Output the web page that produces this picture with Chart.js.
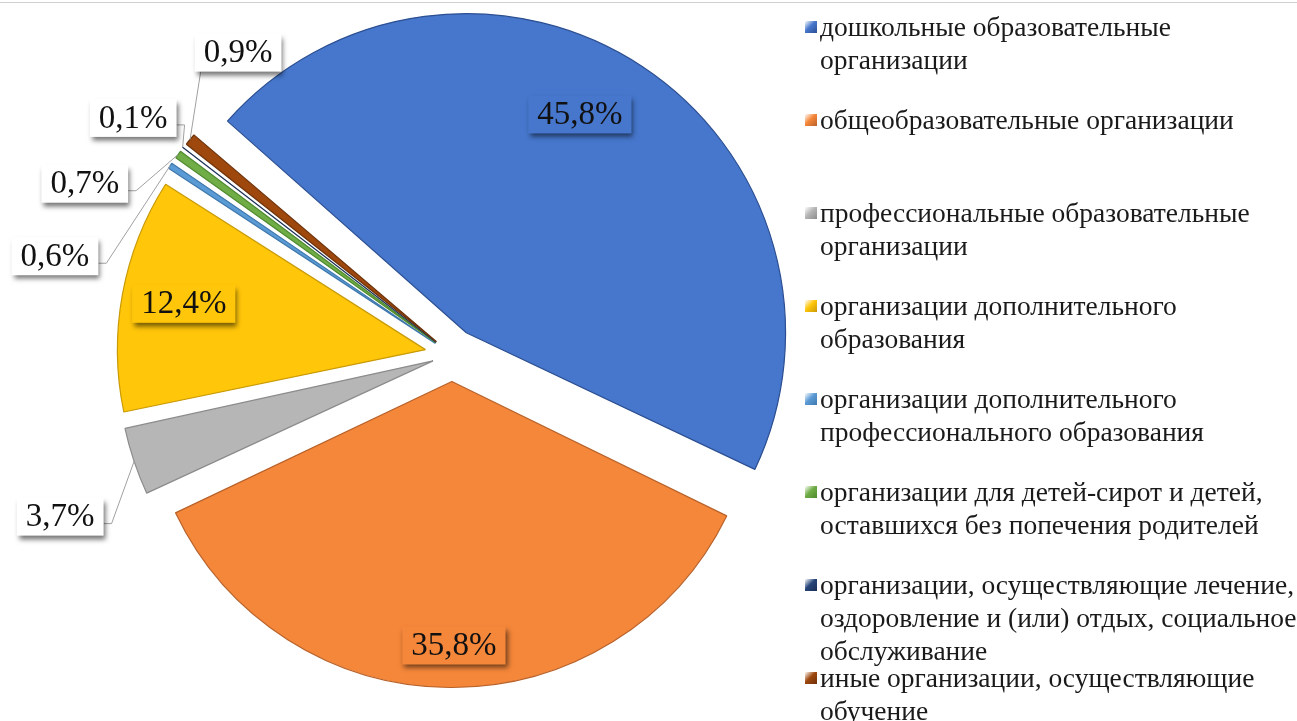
<!DOCTYPE html>
<html lang="ru">
<head>
<meta charset="utf-8">
<title>Структура организаций</title>
<script src="https://cdn.jsdelivr.net/npm/chart.js@4.4.1/dist/chart.umd.min.js"></script>
<style>
  html, body { margin: 0; padding: 0; background: #fff; }
  body { width: 1297px; height: 721px; position: relative; overflow: hidden;
         font-family: "Liberation Serif", "Times New Roman", serif; }
  .topline { position: absolute; left: 0; top: 2px; width: 100%; height: 1px; background: #d0d0d0; }
  #pie { position: absolute; left: 0; top: -6px; }
  #legend { position: absolute; left: 805px; top: 10px; margin: 0; padding: 0; list-style: none; }
  #legend li { height: 93px; display: flex; align-items: flex-start;
               font-size: 27.5px; line-height: 33px; color: #1a1a1a; white-space: nowrap; }
  #legend .mark { width: 12px; height: 12px; margin: 11px 3px 0 0; flex: none; }
</style>
</head>
<body>
<div class="topline"></div>
<canvas id="pie" width="904" height="721"></canvas>
<ul id="legend"></ul>
<script>
// категории (строки легенды) и доли, %
const categories = [
    ['дошкольные образовательные', 'организации'],
    ['общеобразовательные организации'],
    ['профессиональные образовательные', 'организации'],
    ['организации дополнительного', 'образования'],
    ['организации дополнительного', 'профессионального образования'],
    ['организации для детей-сирот и детей,', 'оставшихся без попечения родителей'],
    ['организации, осуществляющие лечение,', 'оздоровление и (или) отдых, социальное', 'обслуживание'],
    ['иные организации, осуществляющие', 'обучение']
];
const shares = [45.8, 35.8, 3.7, 12.4, 0.6, 0.7, 0.1, 0.9];

const colors  = ['#4677cc', '#f5873a', '#b6b6b6', '#ffc60a', '#5b9bd5', '#70ad47', '#264478', '#9e480e'];
const borders = ['#2c4f92', '#b8622a', '#8c8c8c', '#c99a06', '#3f78ad', '#4f8a2e', '#1a2f55', '#6e3209'];

// где ставить подписи: смещение угла от середины сектора и расстояние от центра
const labelPlace = [
    { shift: -5.4,  dist: 272 },
    { shift: -0.7,  dist: 291 },
    { shift: -3.9,  dist: 424, outside: true, attach: 'right' },
    { shift: 0.3,   dist: 273 },
    { shift: -19.9, dist: 409, outside: true, attach: 'right' },
    { shift: -11.2, dist: 405, outside: true, attach: 'right' },
    { shift: -1.0,  dist: 397, outside: true, attach: 'right' },
    { shift: 15.3,  dist: 370, outside: true, attach: 'bottom' }
];

const sliceLabels = {
    id: 'sliceLabels',
    afterDatasetsDraw(chart) {
        const ctx = chart.ctx;
        const meta = chart.getDatasetMeta(0);
        ctx.save();
        ctx.font = '33px "Liberation Serif", "Times New Roman", serif';
        ctx.textAlign = 'center';
        ctx.textBaseline = 'middle';
        meta.data.forEach(function (arc, i) {
            const p = labelPlace[i];
            const mid = (arc.startAngle + arc.endAngle) / 2;
            const ang = mid + p.shift * Math.PI / 180;
            const lx = arc.x + Math.cos(ang) * p.dist;
            const ly = arc.y + Math.sin(ang) * p.dist;
            const text = shares[i].toFixed(1).replace('.', ',') + '%';
            const w = ctx.measureText(text).width + 18;
            const h = 38;
            const bx = lx - w / 2, by = ly - h / 2;

            if (p.outside) {
                // линия-выноска к внешней дуге сектора
                const off = (arc.options.offset || 0) / 4;
                const fix = 1 - Math.sin(Math.min(Math.PI, arc.circumference));
                const r = arc.outerRadius + off * fix + off;
                const ax = arc.x + Math.cos(mid) * r;
                const ay = arc.y + Math.sin(mid) * r;
                ctx.strokeStyle = '#a0a0a0';
                ctx.lineWidth = 1;
                ctx.beginPath();
                if (p.attach === 'bottom') {
                    ctx.moveTo(bx + 6, by + h);
                    ctx.lineTo(ax, ay);
                } else {
                    const sy = by + h / 2 + 7;
                    ctx.moveTo(bx + w, sy);
                    ctx.lineTo(bx + w + 8, sy);
                    ctx.lineTo(ax, ay);
                }
                ctx.stroke();
            }

            ctx.save();
            ctx.shadowColor = 'rgba(0,0,0,0.55)';
            ctx.shadowBlur = 5;
            ctx.shadowOffsetX = 2;
            ctx.shadowOffsetY = 4;
            ctx.fillStyle = p.outside ? '#ffffff' : arc.options.backgroundColor;
            ctx.fillRect(bx, by, w, h);
            ctx.restore();

            ctx.fillStyle = '#111';
            ctx.fillText(text, lx, ly + 1);
        });
        ctx.restore();
    }
};

new Chart(document.getElementById('pie'), {
    type: 'pie',
    data: {
        labels: categories.map(function (l) { return l.join(' '); }),
        datasets: [{
            data: shares,
            backgroundColor: colors,
            borderColor: borders,
            borderWidth: 1.2,
            offset: [104, 108, 80, 108, 80, 80, 80, 80]
        }]
    },
    options: {
        responsive: false,
        animation: false,
        rotation: 311,
        radius: 300,
        layout: { padding: 0 },
        plugins: { legend: { display: false }, tooltip: { enabled: false } }
    },
    plugins: [sliceLabels]
});

// легенда справа
const legend = document.getElementById('legend');
categories.forEach(function (lines, i) {
    const li = document.createElement('li');
    const mark = document.createElement('span');
    mark.className = 'mark';
    mark.style.background = 'linear-gradient(135deg, #ffffff 0%, ' + colors[i] + ' 45%, ' + borders[i] + ' 100%)';
    const txt = document.createElement('span');
    txt.innerHTML = lines.join('<br>');
    li.appendChild(mark);
    li.appendChild(txt);
    legend.appendChild(li);
});
</script>
</body>
</html>
